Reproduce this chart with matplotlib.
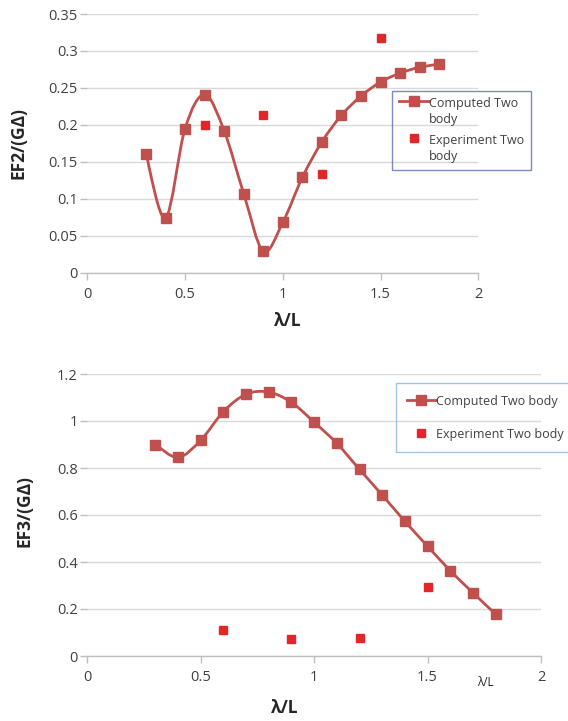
import numpy as np
import matplotlib
matplotlib.use("Agg")
import matplotlib.pyplot as plt
from matplotlib.path import Path
from matplotlib.patches import PathPatch
from matplotlib.lines import Line2D

# ---- data ----
wave_ratio = [0.3, 0.4, 0.5, 0.6, 0.7, 0.8, 0.9, 1.0, 1.1, 1.2, 1.3, 1.4, 1.5, 1.6, 1.7, 1.8]
ef2_computed = [0.161, 0.074, 0.195, 0.241, 0.192, 0.107, 0.029, 0.068,
                0.129, 0.177, 0.213, 0.239, 0.258, 0.270, 0.278, 0.282]
ef3_computed = [0.900, 0.845, 0.918, 1.040, 1.114, 1.123, 1.079, 0.995,
                0.905, 0.794, 0.685, 0.573, 0.467, 0.363, 0.269, 0.178]

exp_ratio = [0.6, 0.9, 1.2, 1.5]
ef2_experiment = [0.200, 0.213, 0.134, 0.318]
ef3_experiment = [0.110, 0.074, 0.075, 0.295]

x_ticks = [0, 0.5, 1, 1.5, 2]
ef2_ticks = [0, 0.05, 0.1, 0.15, 0.2, 0.25, 0.3, 0.35]
ef3_ticks = [0, 0.2, 0.4, 0.6, 0.8, 1.0, 1.2]

label_computed = "Computed Two body"
label_experiment = "Experiment Two body"

# ---- style ----
FONT = ["Open Sans", "DejaVu Sans"]
plt.rcParams["font.family"] = FONT
C_COMP = "#C0504D"
C_EXP = "#E3262A"
GRID = "#D9D9D9"
TXT = "#404040"
TITLE = "#262626"

W, H = 568, 721
fig = plt.figure(figsize=(W / 100, H / 100), dpi=100)


def px_axes(left, top, right, bottom):
    return fig.add_axes([left / W, 1 - bottom / H, (right - left) / W, (bottom - top) / H])


def fig_text(x, y, s, **kw):
    return fig.text(x / W, 1 - y / H, s, ha="center", va="center", **kw)


def smooth_path(xs, ys):
    """Catmull-Rom style Bezier through the data points."""
    pts = np.column_stack([xs, ys]).astype(float)
    n = len(pts)
    verts = [pts[0]]
    codes = [Path.MOVETO]
    for i in range(n - 1):
        p0 = pts[i - 1] if i > 0 else pts[i]
        p1 = pts[i]
        p2 = pts[i + 1]
        p3 = pts[i + 2] if i + 2 < n else pts[i + 1]
        c1 = p1 + (p2 - p0) / 6.0
        c2 = p2 - (p3 - p1) / 6.0
        verts += [c1, c2, p2]
        codes += [Path.CURVE4] * 3
    return Path(verts, codes)


def style_axes(ax, yticks, ylim, yfmt):
    ax.set_xlim(0, 2)
    ax.set_ylim(*ylim)
    ax.set_xticks(x_ticks)
    ax.set_xticklabels([f"{t:g}" for t in x_ticks])
    ax.set_yticks(yticks)
    ax.set_yticklabels([yfmt(t) for t in yticks])
    for s in ("top", "right", "left"):
        ax.spines[s].set_visible(False)
    ax.spines["bottom"].set_color("#BFBFBF")
    ax.spines["bottom"].set_linewidth(1.0)
    ax.tick_params(axis="x", length=5, width=1.0, color="#BFBFBF",
                   labelsize=10.5, labelcolor=TXT, pad=5)
    ax.tick_params(axis="y", length=5, width=1.0, color="#BFBFBF",
                   labelsize=10.5, labelcolor=TXT, pad=2)
    ax.yaxis.grid(True, color=GRID, linewidth=1.0)
    ax.set_axisbelow(True)
    ax.patch.set_alpha(0)


def draw_series(ax, ys, ex):
    ax.add_patch(PathPatch(smooth_path(wave_ratio, ys), facecolor="none",
                           edgecolor=C_COMP, linewidth=2.0, zorder=3))
    ax.plot(wave_ratio, ys, linestyle="none", marker="s", markersize=7.2,
            color=C_COMP, zorder=4)
    ax.plot(exp_ratio, ex, linestyle="none", marker="s", markersize=5.2,
            color=C_EXP, zorder=4)


def fmt_ef2(t):
    return "0" if t == 0 else f"{t:g}"


def fmt_ef3(t):
    return "0" if t == 0 else f"{t:.1f}" if t != 1 else "1"


# ---- top panel: EF2 ----
ax1 = px_axes(87.3, 14, 478.3, 272.7)
style_axes(ax1, ef2_ticks, (0, 0.35), fmt_ef2)
draw_series(ax1, ef2_computed, ef2_experiment)
fig_text(288, 321, "λ/L", fontsize=12.5, fontweight="bold", color=TITLE)
fig_text(18, 143, "EF2/(GΔ)", fontsize=12.5, fontweight="bold", color=TITLE,
         rotation=90)

# ---- bottom panel: EF3 ----
ax2 = px_axes(87.3, 374, 541, 656)
style_axes(ax2, ef3_ticks, (0, 1.2), fmt_ef3)
draw_series(ax2, ef3_computed, ef3_experiment)
fig_text(285, 708, "λ/L", fontsize=12.5, fontweight="bold", color=TITLE)
fig_text(25, 511, "EF3/(GΔ)", fontsize=12.5, fontweight="bold", color=TITLE,
         rotation=90)
fig_text(485, 683, "λ/L", fontsize=8.5, color=TITLE)

# ---- legends ----
h_comp = Line2D([], [], color=C_COMP, linewidth=2.0, marker="s", markersize=7.2)
h_exp = Line2D([], [], linestyle="none", color=C_EXP, marker="s", markersize=5.2)

leg1 = fig.legend([h_comp, h_exp], ["Computed Two\nbody", "Experiment Two\nbody"],
                  loc="upper left", bbox_to_anchor=(392.3 / W, 1 - 90.7 / H),
                  fontsize=9, frameon=True, fancybox=False, handlelength=2.4,
                  handletextpad=0.05, labelspacing=0.6, borderpad=0.5,
                  borderaxespad=0)
leg1.get_frame().set_facecolor("none")
leg1.get_frame().set_edgecolor("#5B6FB5")
leg1.get_frame().set_linewidth(1.0)
for t in leg1.get_texts():
    t.set_color(TXT)
    t.set_linespacing(1.35)
# put each handle level with the first line of its wrapped label
for column in leg1._legend_handle_box.get_children():
    for row in column.get_children():
        row.align = "top"

leg2 = fig.legend([h_comp, h_exp], [label_computed, label_experiment],
                  loc="upper left", bbox_to_anchor=(395.7 / W, 1 - 383.3 / H),
                  fontsize=9, frameon=True, fancybox=False, handlelength=2.3,
                  handletextpad=0.05, labelspacing=1.6, borderpad=0.9,
                  borderaxespad=0)
leg2.get_frame().set_facecolor("none")
leg2.get_frame().set_edgecolor("#8EB4E3")
leg2.get_frame().set_linewidth(1.0)
for t in leg2.get_texts():
    t.set_color(TXT)

fig.savefig("out.png", dpi=100, facecolor="white")
